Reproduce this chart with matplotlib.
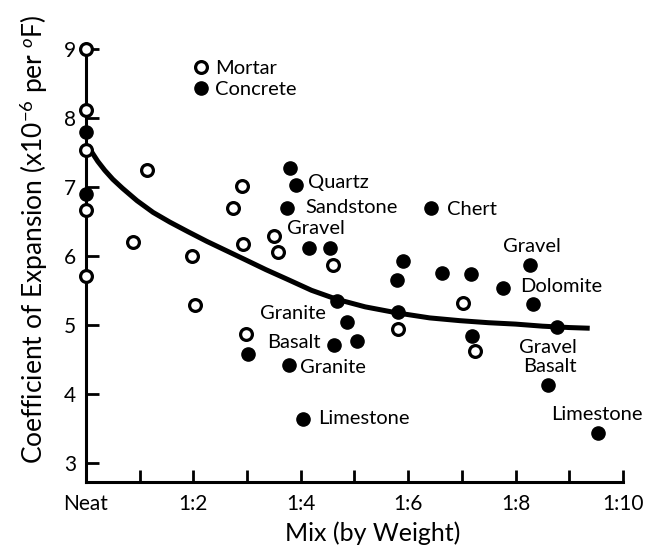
import matplotlib
matplotlib.use("Agg")
import matplotlib.pyplot as plt

plt.rcParams['font.family'] = ['Lato', 'DejaVu Sans']
plt.rcParams['mathtext.fontset'] = 'custom'
plt.rcParams['mathtext.rm'] = 'Lato'
plt.rcParams['mathtext.it'] = 'Lato:italic'

# Mix ratio (0 = neat, n = 1:n) and coefficient of expansion (x10^-6 per F)
mortar_x = [0, 0, 0, 0, 0, 0.88, 1.14, 1.97, 2.03, 2.98, 2.74, 2.9, 2.92,
            3.5, 3.58, 4.6, 5.81, 7.02, 7.24]
mortar_y = [9.0, 8.12, 7.53, 6.67, 5.71, 6.2, 7.24, 6.0, 5.28, 4.87, 6.7, 7.01, 6.17,
            6.29, 6.06, 5.86, 4.94, 5.32, 4.62]

concrete_x = [0, 0, 3.02, 3.8, 3.91, 3.74, 4.15, 4.54, 4.67, 4.86, 4.62, 5.05,
              3.78, 4.04, 5.9, 5.79, 5.81, 6.42, 6.63, 7.17, 7.19, 7.77, 8.27,
              8.32, 8.77, 8.6, 9.53]
concrete_y = [7.79, 6.9, 4.58, 7.27, 7.03, 6.7, 6.11, 6.11, 5.35, 5.04, 4.7, 4.77,
              4.41, 3.63, 5.93, 5.65, 5.19, 6.7, 5.75, 5.74, 4.84, 5.54, 5.87,
              5.3, 4.97, 4.13, 3.43]

# trend curve
curve_x = [0.04, 0.12, 0.22, 0.35, 0.5, 0.68, 0.95, 1.25, 1.56, 1.9, 2.25,
           2.6, 2.95, 3.35, 3.75, 4.2, 4.67, 5.2, 5.81, 6.4, 6.96, 7.5,
           8.0, 8.5, 9.0, 9.38]
curve_y = [7.6, 7.49, 7.37, 7.24, 7.11, 6.98, 6.8, 6.63, 6.49, 6.35, 6.21,
           6.08, 5.95, 5.8, 5.66, 5.5, 5.37, 5.26, 5.17, 5.1, 5.06, 5.03,
           5.01, 4.98, 4.96, 4.95]

# aggregate labels (text, x, y)
labels = ['Quartz', 'Sandstone', 'Gravel', 'Granite', 'Basalt', 'Granite',
          'Limestone', 'Chert', 'Gravel', 'Dolomite', 'Gravel', 'Basalt', 'Limestone']
label_x = [4.13, 4.08, 3.74, 3.24, 3.37, 3.99, 4.32, 6.72, 7.77, 8.08, 8.06, 8.14, 8.66]
label_y = [7.06, 6.70, 6.39, 5.16, 4.74, 4.38, 3.64, 6.67, 6.14, 5.55, 4.67, 4.39, 3.70]

tick_pos = [0, 2, 4, 6, 8, 10]
tick_labels = ['Neat', '1:2', '1:4', '1:6', '1:8', '1:10']

fig = plt.figure(figsize=(6.46, 5.53), dpi=100)
ax = fig.add_axes([0.1331, 0.1284, 0.8313, 0.783])

ax.plot(curve_x, curve_y, color='black', lw=3.6, solid_capstyle='butt',
        solid_joinstyle='round', zorder=2)
ax.plot(concrete_x, concrete_y, 'o', ms=9.5, color='black', mec='black',
        clip_on=False, zorder=3, label='Concrete')
ax.plot(mortar_x, mortar_y, 'o', ms=8.5, mfc='white', mec='black', mew=2.3,
        clip_on=False, zorder=4, label='Mortar')

for t, x, y in zip(labels, label_x, label_y):
    ax.text(x, y, t, fontsize=14.5, ha='left', va='center')

h, l = ax.get_legend_handles_labels()
ax.legend(h[::-1], l[::-1], loc='upper left', bbox_to_anchor=(0.188, 0.993),
          frameon=False, handlelength=0.6, handletextpad=0.4, labelspacing=0.2,
          fontsize=14.5, borderaxespad=0)

ax.set_xlim(0, 10)
ax.set_ylim(2.72, 9)
ax.set_xticks(range(11))
ax.set_xticklabels(['' if i not in tick_pos else tick_labels[tick_pos.index(i)]
                    for i in range(11)])
ax.set_yticks([3, 4, 5, 6, 7, 8, 9])

for s in ['top', 'right']:
    ax.spines[s].set_visible(False)
for s in ['left', 'bottom']:
    ax.spines[s].set_linewidth(2.2)

ax.tick_params(axis='x', direction='in', length=9, width=2, labelsize=15, pad=9)
ax.tick_params(axis='y', direction='in', length=9, width=2, labelsize=15, pad=7)

ax.set_xlabel('Mix (by Weight)', fontsize=18, x=0.534, labelpad=5)
ax.set_ylabel('Coefficient of Expansion (x10$^{-6}$ per $^{o}$F)', fontsize=19,
              y=0.56, labelpad=10)

fig.savefig('out.png', dpi=100)
